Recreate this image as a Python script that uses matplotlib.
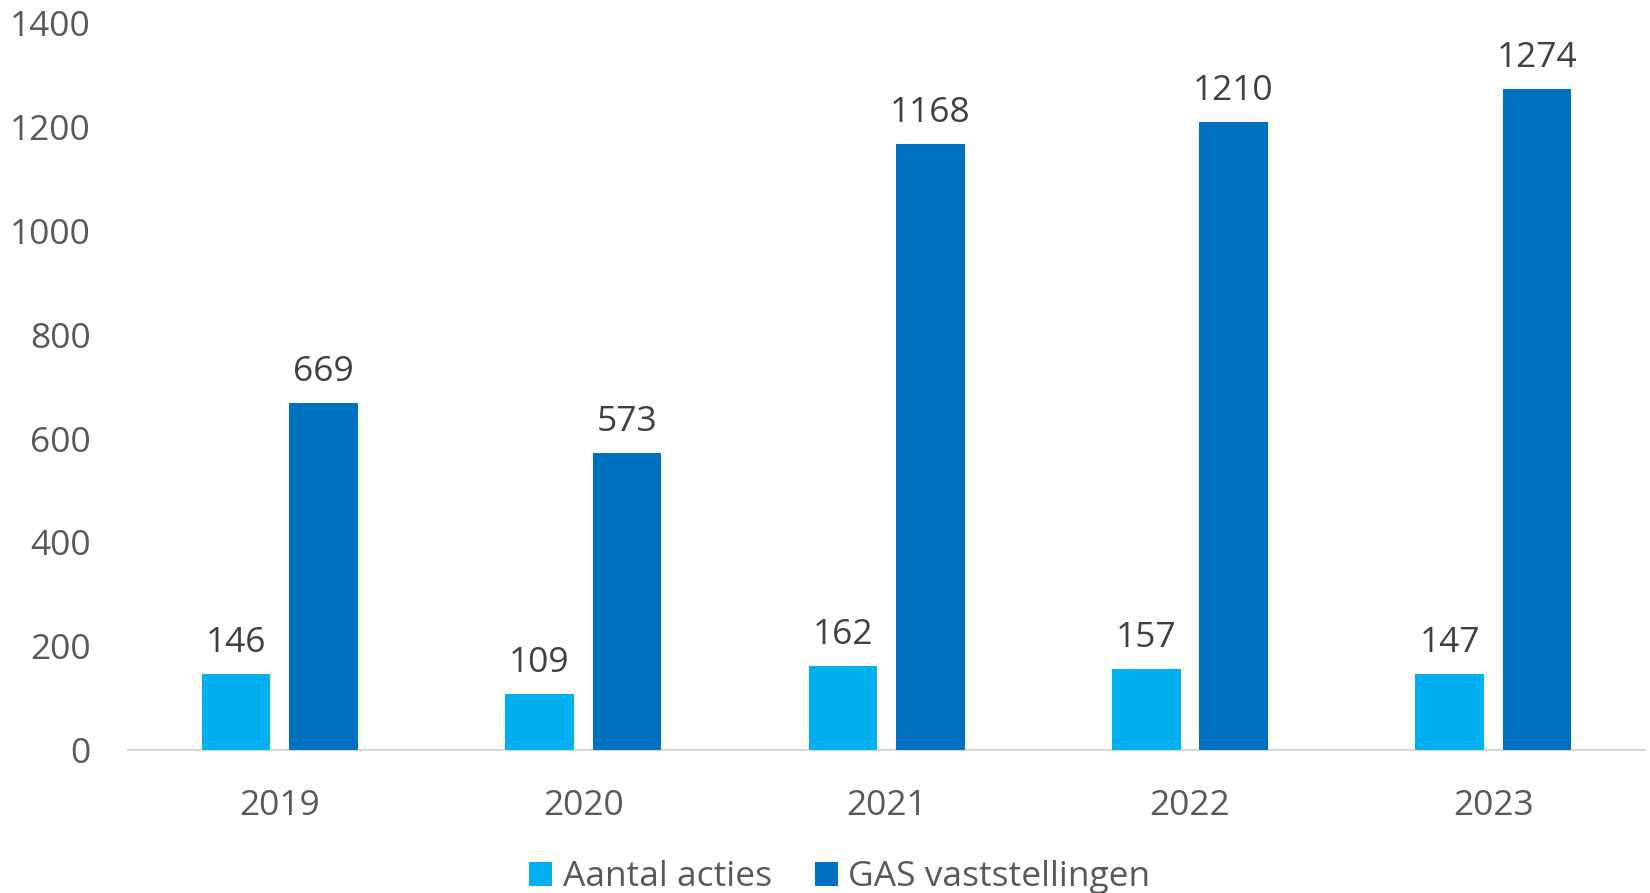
import matplotlib
matplotlib.use("Agg")
import matplotlib.pyplot as plt
import numpy as np

years = ["2019", "2020", "2021", "2022", "2023"]
aantal_acties = [146, 109, 162, 157, 147]
gas_vaststellingen = [669, 573, 1168, 1210, 1274]
series_names = ["Aantal acties", "GAS vaststellingen"]
yticks = [0, 200, 400, 600, 800, 1000, 1200, 1400]

plt.rcParams['font.family'] = ['Open Sans', 'DejaVu Sans']

fig = plt.figure(figsize=(16.5, 8.93), dpi=100)
ax = fig.add_axes([0.0776, 0.160, 0.9194, 0.814])

x = np.arange(len(years))
w = 0.226
off = 0.144
c1, c2 = "#00B0F0", "#0070C0"
b1 = ax.bar(x - off, aantal_acties, w, color=c1, label=series_names[0], zorder=3)
b2 = ax.bar(x + off, gas_vaststellingen, w, color=c2, label=series_names[1], zorder=3)

fs = 25.5
for bars in (b1, b2):
    for r in bars:
        ax.annotate(f"{int(r.get_height())}", (r.get_x() + r.get_width() / 2, r.get_height()),
                    xytext=(0, 10), textcoords="offset points", ha="center", va="bottom",
                    fontsize=fs, color="#404040")

ax.set_xlim(-0.5, len(years) - 0.5)
ax.set_ylim(0, 1400)
ax.set_yticks(yticks)
ax.set_yticklabels([str(v) for v in yticks])
ax.set_xticks(x)
ax.set_xticklabels(years)
ax.tick_params(axis='both', length=0, labelsize=fs, colors="#595959")
ax.tick_params(axis='x', pad=28)
ax.tick_params(axis='y', pad=27)
for s in ["top", "right", "left"]:
    ax.spines[s].set_visible(False)
ax.spines["bottom"].set_color("#D9D9D9")
ax.spines["bottom"].set_linewidth(1.5)

leg = fig.legend(handles=[b1, b2], loc="center", bbox_to_anchor=(0.509, 0.0176), ncol=2,
                 frameon=False, fontsize=fs, handlelength=0.65, handleheight=0.65,
                 handletextpad=0.3, columnspacing=1.2, labelcolor="#595959",
                 borderpad=0)

fig.savefig("out.png", dpi=100)
